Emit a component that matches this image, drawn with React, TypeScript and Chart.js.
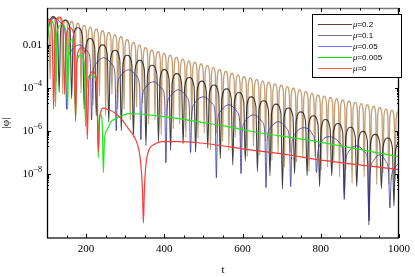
import React, { useEffect, useRef } from 'react';
import { Chart, registerables } from 'chart.js';

Chart.register(...registerables);

// ---- axis definitions ----
const X_MIN = 100;
const X_MAX = 1000;
const Y_MIN = 1e-11;
const Y_MAX = 0.525;
const xMajorTicks = [200, 400, 600, 800, 1000];
const xMinorTicks = [150, 250, 300, 350, 450, 500, 550, 650, 700, 750, 850, 900, 950];
const yMajorExponents = [-2, -4, -6, -8];
const yTickText = ['0.01', '10|-4', '10|-6', '10|-8'];
const xTitle = 't';
const yTitle = '|φ|';

// ---- series (t, log10|φ|) ----
const seriesLabels = ['μ=0.2', 'μ=0.1', 'μ=0.05', 'μ=0.005', 'μ=0'];

const mu02: [number, number][] = [
  [100, -1.2], [105.5, -1.55], [108, -3.6], [110.5, -1.06], [116, -0.71], [121.5, -1.06], [124, -3.7], [126.5, -1.09],
  [132, -0.74], [137.5, -1.09], [140, -4.3], [142.5, -1.17], [147, -0.82], [152.5, -1.17], [155, -3.6], [157.5, -1.26],
  [163, -0.91], [168.5, -1.26], [171, -4.75], [173.5, -1.35], [179, -1.0], [184.5, -1.35], [187, -4.25], [189.5, -1.44],
  [195, -1.09], [200.5, -1.44], [203, -4.0], [205.5, -1.52], [210, -1.17], [215.5, -1.52], [218, -4.8], [220.5, -1.61],
  [226, -1.26], [231.5, -1.61], [234, -4.4], [236.5, -1.69], [242, -1.34], [247.5, -1.69], [250, -5.3], [252.5, -1.78],
  [258, -1.43], [263.5, -1.78], [266, -4.3], [268.5, -1.87], [273, -1.52], [278.5, -1.87], [281, -5.0], [283.5, -1.97],
  [289, -1.62], [294.5, -1.97], [297, -5.0], [299.5, -2.1], [305, -1.75], [310.5, -2.1], [313, -5.5], [315.5, -2.23],
  [321, -1.88], [326.5, -2.23], [329, -4.9], [331.5, -2.36], [336, -2.01], [341.5, -2.36], [344, -4.7], [346.5, -2.48],
  [352, -2.13], [357.5, -2.48], [360, -5.7], [362.5, -2.59], [368, -2.24], [373.5, -2.59], [376, -5.5], [378.5, -2.67],
  [384, -2.32], [389.5, -2.67], [392, -6.2], [394.5, -2.75], [399, -2.4], [404.5, -2.75], [407, -5.3], [409.5, -2.84],
  [415, -2.49], [420.5, -2.84], [423, -5.9], [425.5, -2.93], [431, -2.58], [436.5, -2.93], [439, -5.7], [441.5, -3.01],
  [447, -2.66], [452.5, -3.01], [455, -6.3], [457.5, -3.09], [462, -2.74], [467.5, -3.09], [470, -5.6], [472.5, -3.16],
  [478, -2.81], [483.5, -3.16], [486, -6.35], [488.5, -3.24], [494, -2.89], [499.5, -3.24], [502, -6.1], [504.5, -3.32],
  [510, -2.97], [515.5, -3.32], [518, -6.9], [520.5, -3.4], [525, -3.05], [530.5, -3.4], [533, -6.1], [535.5, -3.5],
  [541, -3.15], [546.5, -3.5], [549, -6.5], [551.5, -3.59], [557, -3.24], [562.5, -3.59], [565, -6.9], [567.5, -3.67],
  [573, -3.32], [578.5, -3.67], [581, -6.3], [583.5, -3.75], [588, -3.4], [593.5, -3.75], [596, -6.85], [598.5, -3.83],
  [604, -3.48], [609.5, -3.83], [612, -7.2], [614.5, -3.9], [620, -3.55], [625.5, -3.9], [628, -6.7], [630.5, -3.97],
  [636, -3.62], [641.5, -3.97], [644, -7.15], [646.5, -4.03], [651, -3.68], [656.5, -4.03], [659, -6.5], [661.5, -4.1],
  [667, -3.75], [672.5, -4.1], [675, -7.4], [677.5, -4.17], [683, -3.82], [688.5, -4.17], [691, -7.05], [693.5, -4.23],
  [699, -3.88], [704.5, -4.23], [707, -7.7], [709.5, -4.29], [714, -3.94], [719.5, -4.29], [722, -7.0], [724.5, -4.37],
  [730, -4.02], [735.5, -4.37], [738, -7.45], [740.5, -4.45], [746, -4.1], [751.5, -4.45], [754, -7.25], [756.5, -4.53],
  [762, -4.18], [767.5, -4.53], [770, -7.9], [772.5, -4.61], [777, -4.26], [782.5, -4.61], [785, -7.2], [787.5, -4.69],
  [793, -4.34], [798.5, -4.69], [801, -7.85], [803.5, -4.74], [809, -4.39], [814.5, -4.74], [817, -7.7], [819.5, -4.8],
  [825, -4.45], [830.5, -4.8], [833, -7.5], [835.5, -4.86], [840, -4.51], [845.5, -4.86], [848, -8.15], [850.5, -4.92],
  [856, -4.57], [861.5, -4.92], [864, -7.8], [866.5, -4.97], [872, -4.62], [877.5, -4.97], [880, -8.45], [882.5, -5.03],
  [888, -4.68], [893.5, -5.03], [896, -7.6], [898.5, -5.09], [903, -4.74], [908.5, -5.09], [911, -8.15], [913.5, -5.15],
  [919, -4.8], [924.5, -5.15], [927, -7.95], [929.5, -5.22], [935, -4.87], [940.5, -5.22], [943, -8.5], [945.5, -5.28],
  [951, -4.93], [956.5, -5.28], [959, -7.95], [961.5, -5.34], [966, -4.99], [971.5, -5.34], [974, -8.5], [976.5, -5.4],
  [982, -5.05], [987.5, -5.4], [990, -8.3], [992.5, -5.46], [998, -5.11], [1000, -5.14],
];

const mu01: [number, number][] = [
  [100, -2.0], [104, -1.2], [115, -0.68], [127, -1.11], [131, -4.2], [135, -1.28], [147, -0.85], [159, -1.28],
  [163, -4.5], [167, -1.63], [179, -1.2], [191, -1.63], [195, -5.0], [199, -2.13], [210, -1.7], [222, -2.13],
  [226, -5.3], [230, -2.43], [242, -2.0], [254, -2.43], [258, -5.6], [262, -2.68], [274, -2.25], [286, -2.68],
  [290, -6.0], [294, -2.91], [305, -2.48], [317, -2.91], [321, -6.3], [325, -3.15], [337, -2.72], [349, -3.15],
  [353, -6.7], [357, -3.38], [369, -2.95], [381, -3.38], [385, -6.5], [389, -3.58], [400, -3.15], [412, -3.58],
  [416, -6.9], [420, -3.77], [432, -3.34], [444, -3.77], [448, -6.6], [452, -3.95], [464, -3.52], [476, -3.95],
  [480, -7.0], [484, -4.12], [496, -3.69], [507, -4.12], [511, -6.8], [515, -4.3], [527, -3.87], [539, -4.3],
  [543, -7.3], [547, -4.48], [559, -4.05], [571, -4.48], [575, -7.6], [579, -4.65], [591, -4.22], [603, -4.65],
  [607, -7.4], [611, -4.85], [622, -4.42], [634, -4.85], [638, -7.9], [642, -5.03], [654, -4.6], [666, -5.03],
  [670, -8.1], [674, -5.19], [686, -4.76], [698, -5.19], [702, -8.7], [706, -5.37], [717, -4.94], [729, -5.37],
  [733, -8.0], [737, -5.55], [749, -5.12], [761, -5.55], [765, -8.1], [769, -5.73], [781, -5.3], [793, -5.73],
  [797, -8.6], [801, -5.91], [812, -5.48], [824, -5.91], [828, -8.1], [832, -6.09], [844, -5.66], [856, -6.09],
  [860, -9.0], [864, -6.27], [876, -5.84], [888, -6.27], [892, -8.6], [896, -6.46], [908, -6.03], [919, -6.46],
  [923, -10.4], [927, -6.6], [939, -6.17], [951, -6.6], [955, -8.7], [959, -6.77], [971, -6.34], [983, -6.77],
  [987, -9.5], [991, -6.95], [1000, -6.55],
];

const mu005: [number, number][] = [
  [100, -1.5], [108, -0.9], [120, -0.75], [140.4, -1.08], [146.8, -1.55], [150, -5.0], [153.2, -2.8], [159.6, -2.33],
  [182, -2.0], [204.4, -2.33], [210.8, -2.8], [214, -5.5], [217.2, -3.4], [223.6, -2.93], [245, -2.6], [267.4, -2.93],
  [273.8, -3.4], [277, -6.0], [280.2, -3.96], [286.6, -3.49], [309, -3.16], [330.4, -3.49], [336.8, -3.96], [340, -6.42],
  [343.2, -4.52], [349.6, -4.05], [372, -3.72], [394.4, -4.05], [400.8, -4.52], [404, -7.5], [407.2, -4.89], [413.6, -4.42],
  [436, -4.09], [457.4, -4.42], [463.8, -4.89], [467, -7.02], [470.2, -5.22], [476.6, -4.75], [500, -4.42], [523.4, -4.75],
  [529.8, -5.22], [533, -8.19], [536.2, -5.59], [542.6, -5.12], [565, -4.79], [586.4, -5.12], [592.8, -5.59], [596, -8.0],
  [599.2, -6.06], [605.6, -5.59], [628, -5.26], [650.4, -5.59], [656.8, -6.06], [660, -8.65], [663.2, -6.38], [669.6, -5.91],
  [691, -5.58], [713.4, -5.91], [719.8, -6.38], [723, -8.6], [726.2, -6.66], [732.6, -6.19], [756, -5.86], [779.4, -6.19],
  [785.8, -6.66], [789, -7.95], [792.2, -7.08], [798.6, -6.61], [824, -6.28], [850.4, -6.61], [856.8, -7.08], [860, -9.2],
  [863.2, -7.5], [869.6, -7.03], [892, -6.7], [913.8, -7.03], [920.2, -7.5], [923.4, -10.2], [926.6, -7.92], [933, -7.45],
  [950, -7.12], [967, -7.45], [973.4, -7.92], [976.6, -9.6], [979.8, -8.3], [986.2, -7.83], [1000, -7.5],
];

const mu0005: [number, number][] = [
  [100, -2.0], [107, -0.84], [119, -1.3], [122, -4.88], [125, -1.45], [137.5, -1.07], [149.7, -1.45], [152.7, -5.02],
  [155.7, -2.2], [163, -1.77], [170, -2.2], [173, -5.58], [176, -2.9], [185.7, -2.47], [195.4, -2.9], [198.4, -5.81],
  [201.4, -3.8], [213.6, -3.4], [228.3, -3.9], [231.3, -7.26], [233.5, -5.6], [237.7, -5.26], [241.5, -5.8], [244, -7.95],
  [247, -6.4], [254, -5.95], [264, -5.58], [279.5, -5.4], [297, -5.26], [310, -5.2], [340, -5.22], [380, -5.3],
  [437, -5.44], [500, -5.62], [563, -5.81], [614, -6.0], [700, -6.25], [791, -6.51], [893, -6.85], [1000, -7.21],
];

const mu0: [number, number][] = [
  [100, -1.2], [104, -0.8], [113, -1.3], [117, -5.0], [121, -1.1], [131, -0.7], [141, -1.1], [145, -4.3],
  [149, -1.6], [159, -1.21], [169, -1.6], [173, -5.5], [177, -2.55], [188, -2.14], [199, -2.55], [203, -6.4],
  [207, -3.65], [217, -3.26], [227, -3.65], [231, -7.0], [235, -5.3], [245, -4.95], [256, -5.02], [272, -5.15],
  [290, -5.45], [310, -5.95], [325, -6.35], [335, -6.9], [340, -7.58], [344, -8.74], [346.5, -10.3], [349, -8.74],
  [353, -7.58], [361, -6.88], [373, -6.65], [394, -6.51], [437, -6.51], [487, -6.56], [563, -6.74], [614, -6.88],
  [715, -7.12], [791, -7.35], [893, -7.58], [1000, -7.81],
];

// drawing order: first dataset is drawn on top
const lineColors = ['#ff3a3a', '#1ee81e', 'rgba(50,50,160,0.8)', 'rgba(10,10,10,0.78)', 'rgba(175,120,62,0.72)'];
const lineWidths = [1.2, 1.2, 1, 1.1, 1.3];
const legendColors = ['#6b3a33', '#6e6e6e', '#6f6fff', '#00e000', '#ff5a5a'];
const seriesInDrawOrder = [mu0, mu0005, mu005, mu01, mu02];

const SERIF = "'Liberation Serif', 'Times New Roman', 'DejaVu Serif', serif";
const SANS = "'Liberation Sans', Arial, 'DejaVu Sans', sans-serif";

const framePlugin = {
  id: 'framePlugin',
  afterDraw(chart: any) {
    const { ctx, chartArea: a, scales } = chart;
    const xs = scales.x;
    const ys = scales.y;
    ctx.save();
    const line = (x1: number, y1: number, x2: number, y2: number) => {
      ctx.beginPath();
      ctx.moveTo(x1, y1);
      ctx.lineTo(x2, y2);
      ctx.stroke();
    };
    // frame
    ctx.lineWidth = 1.3;
    ctx.strokeStyle = '#777';
    line(a.left, a.top + 0.5, a.right, a.top + 0.5);
    ctx.strokeStyle = '#333';
    ctx.lineWidth = 1.6;
    line(a.left, a.bottom, a.right, a.bottom);
    ctx.strokeStyle = '#000';
    ctx.lineWidth = 1.3;
    line(a.left + 0.5, a.top, a.left + 0.5, a.bottom);
    line(a.right - 0.5, a.top, a.right - 0.5, a.bottom);

    // x ticks
    ctx.lineWidth = 1;
    ctx.strokeStyle = '#000';
    for (const v of xMajorTicks) {
      const x = Math.round(xs.getPixelForValue(v)) + 0.5;
      line(x, a.bottom, x, a.bottom - 4);
      line(x, a.top, x, a.top + 4);
    }
    for (const v of xMinorTicks) {
      const x = Math.round(xs.getPixelForValue(v)) + 0.5;
      line(x, a.bottom, x, a.bottom - 2.5);
      line(x, a.top, x, a.top + 2.5);
    }
    // y ticks
    for (const e of yMajorExponents) {
      const y = Math.round(ys.getPixelForValue(Math.pow(10, e))) + 0.5;
      line(a.left, y, a.left + 4, y);
      line(a.right, y, a.right - 4, y);
      for (let k = 2; k <= 9; k++) {
        const ym = Math.round(ys.getPixelForValue(k * Math.pow(10, e - 1))) + 0.5;
        line(a.left, ym, a.left + 2, ym);
        line(a.right, ym, a.right - 2, ym);
      }
    }

    // y tick labels with superscripts
    ctx.fillStyle = '#000';
    ctx.textBaseline = 'middle';
    yMajorExponents.forEach((e, i) => {
      const y = ys.getPixelForValue(Math.pow(10, e));
      const txt = yTickText[i];
      const rightX = a.left - 5;
      if (txt.indexOf('|') < 0) {
        ctx.font = `11px ${SERIF}`;
        ctx.textAlign = 'right';
        ctx.fillText(txt, rightX, y);
      } else {
        const [base, sup] = txt.split('|');
        const supText = sup.replace('-', '\u2212');
        ctx.font = `8px ${SERIF}`;
        const sw = ctx.measureText(supText).width;
        ctx.textAlign = 'left';
        ctx.fillText(supText, rightX - sw, y - 4);
        ctx.font = `11px ${SERIF}`;
        ctx.textAlign = 'right';
        ctx.fillText(base, rightX - sw, y + 0.5);
      }
    });

    // legend
    const lx = 312;
    const ly = 14;
    const lw = 89;
    const lh = 63;
    ctx.fillStyle = '#fff';
    ctx.fillRect(lx, ly, lw, lh);
    ctx.strokeStyle = '#000';
    ctx.lineWidth = 1;
    ctx.strokeRect(lx + 0.5, ly + 0.5, lw, lh);
    seriesLabels.forEach((lab, i) => {
      const ry = ly + 10.5 + i * 11;
      ctx.strokeStyle = legendColors[i];
      ctx.lineWidth = 1;
      line(lx + 6, ry, lx + 40, ry);
      ctx.fillStyle = '#000';
      ctx.textAlign = 'left';
      ctx.textBaseline = 'middle';
      ctx.font = `italic 8px ${SANS}`;
      const mu = lab.charAt(0);
      ctx.fillText(mu, lx + 41, ry);
      const mw = ctx.measureText(mu).width;
      ctx.font = `8px ${SANS}`;
      ctx.fillText(lab.slice(1), lx + 41 + mw, ry);
    });
    ctx.restore();
  },
};

export default function App() {
  const canvasRef = useRef<HTMLCanvasElement>(null);

  useEffect(() => {
    const canvas = canvasRef.current;
    if (!canvas) return;
    const datasets = seriesInDrawOrder.map((pts, i) => ({
      label: seriesLabels[seriesLabels.length - 1 - i],
      data: pts.map(([t, lg]) => ({ x: t, y: Math.pow(10, lg) })),
      borderColor: lineColors[i],
      borderWidth: lineWidths[i],
      pointRadius: 0,
      fill: false,
      cubicInterpolationMode: 'monotone' as const,
    }));
    const chart = new Chart(canvas, {
      type: 'line',
      data: { datasets },
      options: {
        responsive: false,
        animation: false,
        devicePixelRatio: 1,
        layout: { padding: { left: 0, right: 12, top: 8, bottom: 0 } },
        plugins: { legend: { display: false }, tooltip: { enabled: false } },
        scales: {
          x: {
            type: 'linear',
            min: X_MIN,
            max: X_MAX,
            afterFit: (s: any) => {
              s.height = 39;
            },
            afterBuildTicks: (s: any) => {
              s.ticks = xMajorTicks.map((v) => ({ value: v }));
            },
            ticks: {
              autoSkip: false,
              maxRotation: 0,
              padding: 5,
              color: '#000',
              font: { family: SERIF, size: 11 },
              callback: (v: any) => String(v),
            },
            grid: { display: false, drawTicks: false },
            border: { display: false },
            title: {
              display: true,
              text: xTitle,
              color: '#000',
              font: { family: SERIF, size: 11 },
              padding: { top: 0, bottom: 0 },
            },
          },
          y: {
            type: 'logarithmic',
            min: Y_MIN,
            max: Y_MAX,
            afterFit: (s: any) => {
              s.width = 47;
            },
            ticks: { display: false },
            grid: { display: false, drawTicks: false },
            border: { display: false },
            title: {
              display: true,
              text: yTitle,
              color: '#000',
              font: { family: SERIF, size: 11 },
              padding: { top: 0, bottom: 0 },
            },
          },
        },
      },
      plugins: [framePlugin],
    } as any);
    return () => chart.destroy();
  }, []);

  return (
    <div style={{ position: 'fixed', left: 0, top: 0, width: 415, height: 277, background: '#fff' }}>
      <canvas ref={canvasRef} width={415} height={277} style={{ display: 'block', width: 415, height: 277 }} />
    </div>
  );
}
